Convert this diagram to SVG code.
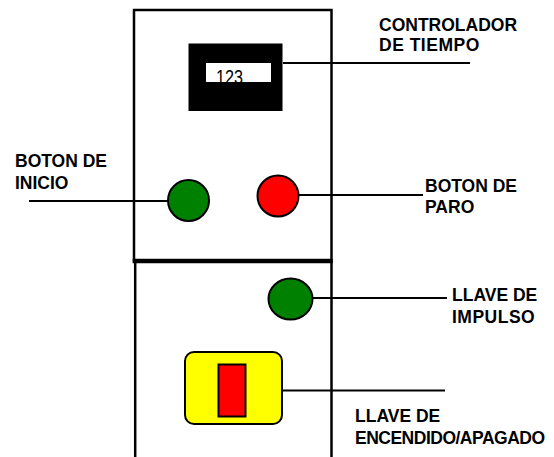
<svg xmlns="http://www.w3.org/2000/svg" width="554" height="457" viewBox="0 0 554 457">
  <style>
    .lbl { font-family: "Liberation Sans", Arial, sans-serif; font-weight: bold; font-size: 17.5px; fill: #000; }
    .edge { stroke: #000; stroke-width: 2; fill: none; }
    .frame { stroke: #000; stroke-width: 2.5; fill: none; }
    .node { stroke: #000; stroke-width: 2; }
  </style>
  <defs>
    <clipPath id="screenClip"><rect x="206" y="63" width="65" height="19"/></clipPath>
  </defs>
  <rect width="554" height="457" fill="#fff"/>

  <g id="panel">
    <rect class="frame" x="134" y="10" width="197.5" height="251"/>
    <line x1="132.7" y1="261" x2="332.7" y2="261" stroke="#000" stroke-width="4.5"/>
    <line class="frame" x1="135.2" y1="261" x2="135.2" y2="460"/>
    <line class="frame" x1="331.5" y1="261" x2="331.5" y2="460"/>
  </g>

  <g id="connectors">
    <line class="edge" x1="283" y1="63" x2="470" y2="63"/>
    <line class="edge" x1="29" y1="201" x2="168" y2="201"/>
    <line class="edge" x1="299" y1="195" x2="423" y2="195"/>
    <line class="edge" x1="313" y1="298" x2="447" y2="298"/>
    <line class="edge" x1="282" y1="390.5" x2="445" y2="390.5"/>
  </g>

  <g id="timer">
    <rect x="188.5" y="43.5" width="94" height="67.5" fill="#000"/>
    <rect x="206" y="63" width="65" height="19" fill="#fff"/>
    <text x="216" y="83.5" clip-path="url(#screenClip)" font-family="'Liberation Sans', Arial, sans-serif" font-size="20" textLength="27" lengthAdjust="spacingAndGlyphs" fill="#000">123</text>
    <text class="lbl" x="379" y="30.5">CONTROLADOR</text>
    <text class="lbl" x="379" y="50.5" letter-spacing="0.5">DE TIEMPO</text>
  </g>

  <g id="start-button">
    <circle class="node" cx="188.5" cy="200.5" r="20.5" fill="#008000"/>
    <text class="lbl" x="15" y="167">BOTON DE</text>
    <text class="lbl" x="15" y="188.5">INICIO</text>
  </g>

  <g id="stop-button">
    <circle class="node" cx="278" cy="196" r="20.5" fill="#ff0000"/>
    <text class="lbl" x="425" y="192">BOTON DE</text>
    <text class="lbl" x="425" y="213">PARO</text>
  </g>

  <g id="impulse-key">
    <ellipse class="node" cx="290.5" cy="299" rx="22" ry="20.5" fill="#008000"/>
    <text class="lbl" x="452" y="301">LLAVE DE</text>
    <text class="lbl" x="452" y="323" letter-spacing="0.5">IMPULSO</text>
  </g>

  <g id="on-off-key">
    <rect class="node" x="185" y="352" width="97" height="72" rx="9" fill="#ffff00"/>
    <rect class="node" x="218.5" y="364.5" width="27" height="52" fill="#ff0000"/>
    <text class="lbl" x="355" y="422">LLAVE DE</text>
    <text class="lbl" x="355" y="443.5" letter-spacing="-0.5">ENCENDIDO/APAGADO</text>
  </g>
</svg>
